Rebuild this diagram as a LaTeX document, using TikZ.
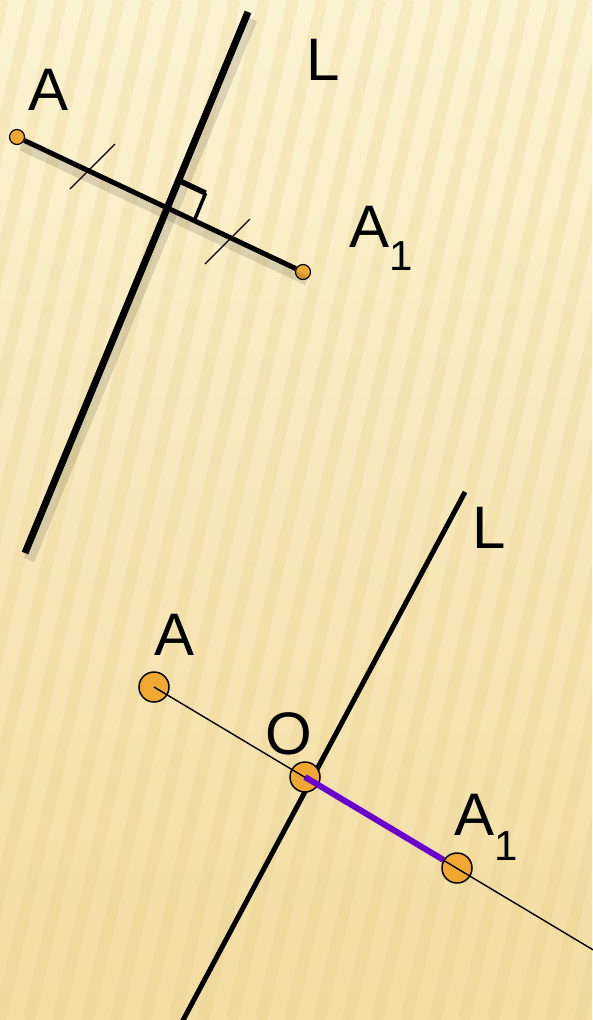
\documentclass[tikz,border=0pt]{standalone}
\usepackage{fontspec}
\setmainfont{Liberation Sans}
\usepackage{xcolor}
\definecolor{paperTop}{HTML}{FCF3D2}
\definecolor{paperBot}{HTML}{F2DDA2}
\definecolor{stripeTan}{HTML}{E3C77E}
\definecolor{dotOrange}{HTML}{F0A833}
\definecolor{segPurple}{HTML}{6A00D0}
\usetikzlibrary{positioning,calc}
\newcommand{\lowidx}[2]{\raisebox{-#1}{\fontsize{42}{42}\selectfont #2}}

\begin{document}
\begin{tikzpicture}[x=1pt,y=-1pt,
  lbl/.style={anchor=base west,inner sep=0pt,font=\fontsize{60}{60}\selectfont},
  dot/.style={circle,draw,line width=1.2pt,fill=dotOrange,minimum size=15pt,inner sep=0pt},
  bigdot/.style={dot,minimum size=30pt,line width=1.5pt},
  shade line/.style={black,opacity=.12,line width=#1}]
  \useasboundingbox (0,0) rectangle (592,1020);
  % paper
  \fill[top color=paperTop,bottom color=paperBot] (0,0) rectangle (592,1020);
  \begin{scope}
    \clip (0,0) rectangle (592,1020);
    \foreach \i in {-10,...,22}
      \draw[stripeTan,opacity=.2,line width=12pt] (\i*29,1020) -- (\i*29+235,0);
  \end{scope}

  % upper figure
  \coordinate (tLtop) at (248,12);
  \coordinate (tLbot) at (25,553);
  \node[dot] (tA) at (17,137) {};
  \node[dot] (tA1) at (303,272) {};
  \coordinate (tX) at (167,208);
  \draw[shade line=11pt] ($(tLtop)+(4,7)$) -- ($(tLbot)+(4,7)$);
  \draw[shade line=9pt] ($(tA)+(4,9)$) -- ($(tA1)+(4,9)$);
  \draw[line width=7pt] (tLtop) -- (tLbot);
  \draw[line width=5pt] (tA) -- (tA1);
  \draw[line width=1.4pt] (70,189) -- (115,144);
  \draw[line width=1.4pt] (205,264) -- (250,219);
  \draw[line width=5.5pt] ($(tX)+(11.4,-27.7)$) -- ($(tX)+(38.6,-14.9)$);
  \draw[line width=3.5pt] ($(tX)+(38.6,-14.9)$) -- ($(tX)+(27.2,12.8)$);
  \node[lbl] (tlA) at (28,110) {A};
  \node[lbl] (tlL) at (306,80) {L};
  \node[lbl] (tlA1) at (349,247) {A\lowidx{23pt}{1}};

  % lower figure
  \coordinate (bLtop) at (465,492);
  \coordinate (bLbot) at (181,1024);
  \coordinate (bEnd) at (595,951);
  \draw[line width=5pt] (bLtop) -- (bLbot);
  \node[bigdot] (bA) at (154,687) {};
  \node[bigdot] (bO) at (305,777) {};
  \node[bigdot] (bA1) at (457,868) {};
  \draw[line width=1.4pt] (bA.center) -- (bEnd);
  \draw[segPurple,line width=6pt] (bO.center) -- (bA1);
  \node[lbl] (blA) at (154,655) {A};
  \node[lbl] (blL) at (472,548) {L};
  \node[lbl] (blO) at (265,754) {O};
  \node[lbl] (blA1) at (454,835) {A\lowidx{25pt}{1}};
\end{tikzpicture}
\end{document}
